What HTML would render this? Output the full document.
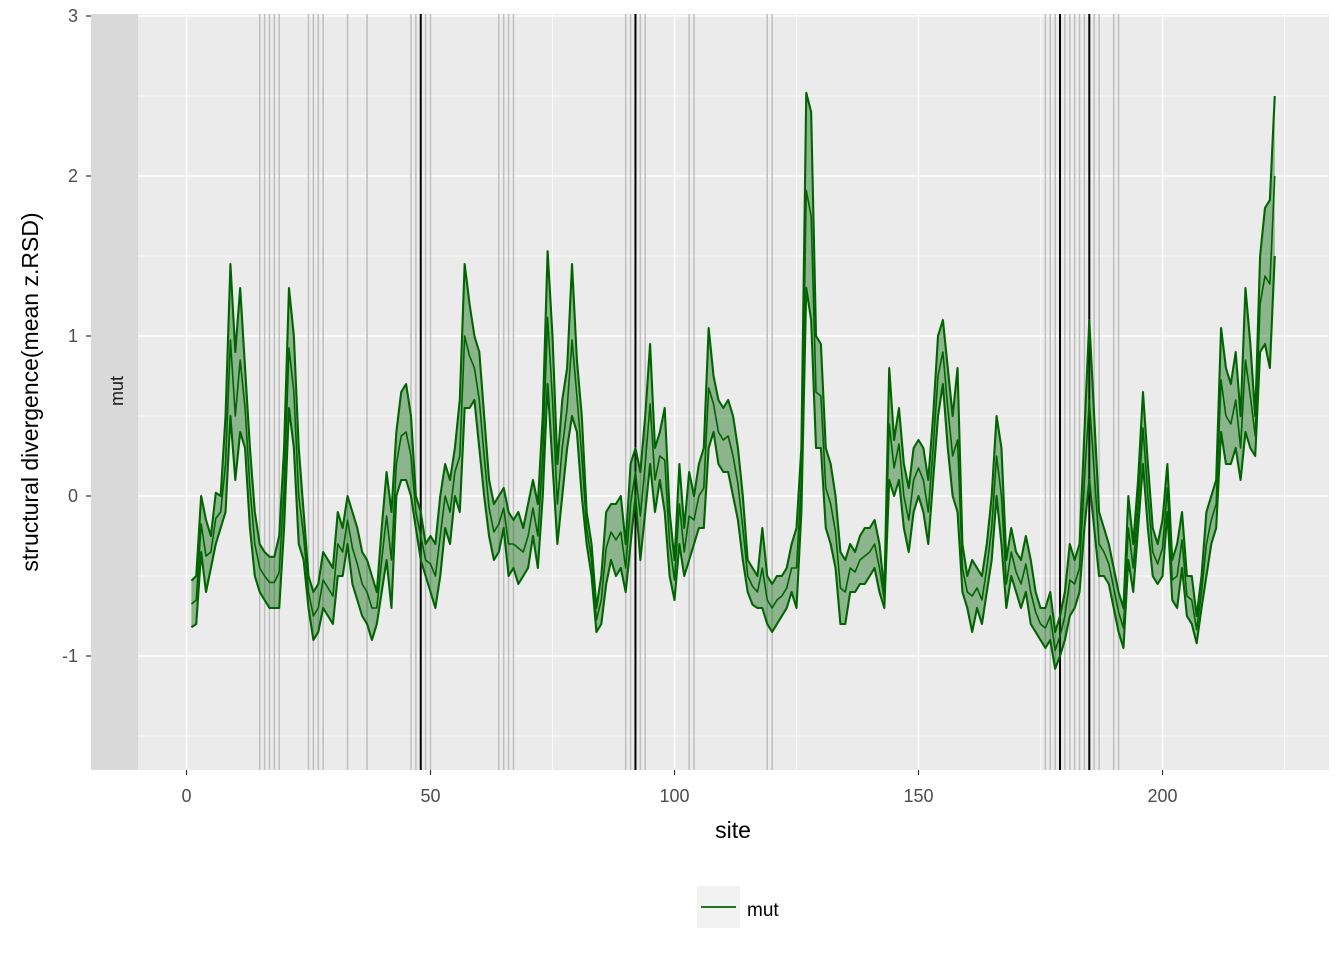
<!DOCTYPE html>
<html><head><meta charset="utf-8"><style>
body{margin:0;background:#fff;}
svg{display:block;font-family:"Liberation Sans",Arial,sans-serif;}
</style></head><body>
<svg id="chart" width="1344" height="960" viewBox="0 0 1344 960">
<rect x="0" y="0" width="1344" height="960" fill="#fff"/>
<rect x="91" y="14" width="1238" height="756" fill="#ebebeb"/>
<g id="grid"></g>
<g id="vlines"></g>
<g id="series"></g>
<rect x="91" y="14" width="47" height="756" fill="#d9d9d9"/>
<text x="0" y="0" transform="translate(123,391) rotate(-90)" text-anchor="middle" font-size="18" fill="#1a1a1a">mut</text>
<g id="yaxis"></g>
<g id="xaxis"></g>
<text x="733" y="838" text-anchor="middle" font-size="23" fill="#000">site</text>
<text x="0" y="0" transform="translate(38,392) rotate(-90)" text-anchor="middle" font-size="23" fill="#000">structural divergence(mean z.RSD)</text>
<g>
<rect x="697" y="886" width="43" height="42" fill="#f2f2f2"/>
<line x1="701" y1="907" x2="736" y2="907" stroke="#006400" stroke-width="1.8"/>
<text x="747" y="916" font-size="19" fill="#000">mut</text>
</g>
</svg>
<script>
const upper=[-0.53,-0.5,0.0,-0.15,-0.25,0.02,0.0,0.5,1.45,0.9,1.3,0.8,0.3,-0.1,-0.3,-0.35,-0.38,-0.38,-0.25,0.3,1.3,1.0,0.3,-0.1,-0.5,-0.6,-0.55,-0.35,-0.4,-0.45,-0.1,-0.2,0.0,-0.1,-0.2,-0.35,-0.4,-0.5,-0.6,-0.2,0.15,-0.1,0.4,0.65,0.7,0.5,0.0,-0.1,-0.3,-0.25,-0.3,0.0,0.2,0.1,0.3,0.6,1.45,1.2,1.0,0.9,0.5,0.1,-0.05,0.0,0.05,-0.1,-0.15,-0.1,-0.2,-0.05,0.1,-0.05,0.5,1.53,1.0,0.2,0.6,0.8,1.45,0.85,0.5,-0.1,-0.3,-0.7,-0.5,-0.1,-0.05,-0.05,0.0,-0.3,0.2,0.3,0.15,0.5,0.95,0.3,0.4,0.55,-0.1,-0.4,0.2,-0.2,0.15,0.0,0.2,0.3,1.05,0.75,0.6,0.55,0.6,0.5,0.3,0.0,-0.4,-0.45,-0.5,-0.2,-0.5,-0.55,-0.5,-0.5,-0.45,-0.3,-0.2,0.3,2.52,2.4,1.0,0.95,0.3,0.2,0.0,-0.35,-0.4,-0.3,-0.35,-0.25,-0.2,-0.2,-0.15,-0.3,-0.6,0.8,0.35,0.55,0.2,0.05,0.3,0.35,0.3,0.1,0.5,1.0,1.1,0.8,0.5,0.8,-0.3,-0.5,-0.4,-0.45,-0.5,-0.3,0.0,0.5,0.3,-0.4,-0.2,-0.35,-0.4,-0.25,-0.4,-0.6,-0.7,-0.7,-0.6,-0.85,-0.75,-0.6,-0.3,-0.4,-0.3,0.4,1.1,0.5,-0.1,-0.2,-0.3,-0.45,-0.6,-0.7,0.0,-0.3,0.1,0.65,0.2,-0.2,-0.3,-0.15,0.2,-0.4,-0.3,-0.1,-0.5,-0.5,-0.75,-0.5,-0.1,0.0,0.1,1.05,0.8,0.7,0.9,0.5,1.3,0.95,0.5,1.5,1.8,1.85,2.5];
const lower=[-0.82,-0.8,-0.35,-0.6,-0.45,-0.3,-0.2,-0.1,0.5,0.1,0.4,0.3,-0.2,-0.5,-0.6,-0.65,-0.7,-0.7,-0.7,-0.2,0.55,0.3,-0.3,-0.4,-0.7,-0.9,-0.85,-0.7,-0.75,-0.8,-0.5,-0.5,-0.3,-0.55,-0.65,-0.75,-0.8,-0.9,-0.8,-0.6,-0.4,-0.7,0.0,0.1,0.1,0.0,-0.2,-0.4,-0.5,-0.6,-0.7,-0.5,-0.2,-0.3,0.0,-0.1,0.55,0.55,0.6,0.3,0.0,-0.25,-0.4,-0.35,-0.2,-0.5,-0.45,-0.55,-0.5,-0.45,-0.25,-0.45,0.0,0.7,0.2,-0.3,0.0,0.3,0.5,0.4,0.0,-0.3,-0.5,-0.85,-0.8,-0.55,-0.4,-0.5,-0.45,-0.6,-0.3,0.0,-0.4,-0.1,0.2,-0.1,0.1,-0.1,-0.5,-0.65,-0.3,-0.5,-0.4,-0.3,-0.2,-0.2,0.3,0.4,0.2,0.15,0.15,0.0,-0.15,-0.4,-0.6,-0.68,-0.7,-0.7,-0.8,-0.85,-0.8,-0.75,-0.7,-0.6,-0.7,-0.1,1.3,1.1,0.3,0.3,-0.2,-0.3,-0.45,-0.8,-0.8,-0.6,-0.6,-0.55,-0.55,-0.5,-0.45,-0.6,-0.7,0.1,0.0,0.1,-0.2,-0.35,-0.1,0.0,-0.1,-0.3,0.1,0.5,0.7,0.3,0.0,-0.1,-0.6,-0.7,-0.85,-0.7,-0.8,-0.6,-0.4,0.0,-0.3,-0.7,-0.5,-0.6,-0.7,-0.6,-0.8,-0.85,-0.9,-0.95,-0.9,-1.08,-1.0,-0.9,-0.75,-0.7,-0.6,-0.2,0.1,-0.2,-0.5,-0.5,-0.55,-0.7,-0.85,-0.95,-0.4,-0.6,-0.2,0.2,-0.2,-0.5,-0.55,-0.5,-0.1,-0.65,-0.7,-0.45,-0.75,-0.8,-0.92,-0.7,-0.5,-0.3,-0.2,0.4,0.2,0.2,0.3,0.1,0.4,0.3,0.25,0.9,0.95,0.8,1.5];
const grayMarks=[15,16,17,18,19,25,26,27,28,33,37,46,47,49,50,64,65,66,67,90,91,93,94,103,104,119,120,176,177,178,180,181,182,183,184,186,187,190,191];
const blackMarks=[48,92,179,185];
const yTicks=[-1,0,1,2,3];
const xTicks=[0,50,100,150,200];
const yMinor=[-1.5,-0.5,0.5,1.5,2.5];
const xMinor=[25,75,125,175,225];

const NS="http://www.w3.org/2000/svg";
const sx=s=>186.5+4.88*s;
const sy=v=>496-160*v;
const PL=91,PR=1329,PT=14,PB=770;
function mk(tag,attrs,parent){const e=document.createElementNS(NS,tag);for(const k in attrs)e.setAttribute(k,attrs[k]);parent.appendChild(e);return e;}
const grid=document.getElementById('grid');
yMinor.forEach(v=>{const e=mk('line',{x1:PL,x2:PR,y1:sy(v),y2:sy(v),stroke:'#fff','stroke-width':0.7},grid);

});
xMinor.forEach(v=>{const e=mk('line',{x1:sx(v),x2:sx(v),y1:PT,y2:PB,stroke:'#fff','stroke-width':0.7},grid);

});
yTicks.forEach(v=>{const e=mk('line',{x1:PL,x2:PR,y1:sy(v),y2:sy(v),stroke:'#fff','stroke-width':1.5},grid);

});
xTicks.forEach(v=>{const e=mk('line',{x1:sx(v),x2:sx(v),y1:PT,y2:PB,stroke:'#fff','stroke-width':1.5},grid);

});
const vl=document.getElementById('vlines');
grayMarks.forEach(s=>{const e=mk('line',{x1:sx(s),x2:sx(s),y1:PT,y2:PB,stroke:'#bebebe','stroke-width':1.5},vl);

});
blackMarks.forEach(s=>{const e=mk('line',{x1:sx(s),x2:sx(s),y1:PT,y2:PB,stroke:'#000','stroke-width':2},vl);

});
const ser=document.getElementById('series');
const n=upper.length;
let up=[],lo=[],mid=[];
for(let i=0;i<n;i++){const s=i+1;up.push(sx(s)+','+sy(upper[i]));lo.push(sx(s)+','+sy(lower[i]));mid.push(sx(s)+','+sy((upper[i]+lower[i])/2));}
const rib=mk('polygon',{points:up.concat(lo.slice().reverse()).join(' '),fill:'#006400','fill-opacity':0.4,stroke:'none'},ser);


[[up,'upper-line'],[mid,'mean-line'],[lo,'lower-line']].forEach(([p,name])=>{const e=mk('polyline',{points:p.join(' '),fill:'none',stroke:'#006400','stroke-width':name==='mean-line'?1.6:2.1,'stroke-linejoin':'round'},ser);

});
const ya=document.getElementById('yaxis');
yTicks.forEach(v=>{const t=mk('line',{x1:86,x2:91,y1:sy(v),y2:sy(v),stroke:'#333','stroke-width':1.2},ya);


const l=mk('text',{x:78,y:sy(v)+6,'text-anchor':'end','font-size':18,fill:'#4d4d4d'},ya);l.textContent=v;

});
const xa=document.getElementById('xaxis');
xTicks.forEach(v=>{const t=mk('line',{x1:sx(v),x2:sx(v),y1:770,y2:775,stroke:'#333','stroke-width':1.2},xa);


const l=mk('text',{x:sx(v),y:802,'text-anchor':'middle','font-size':18,fill:'#4d4d4d'},xa);l.textContent=v;

});
</script>
</body></html>
